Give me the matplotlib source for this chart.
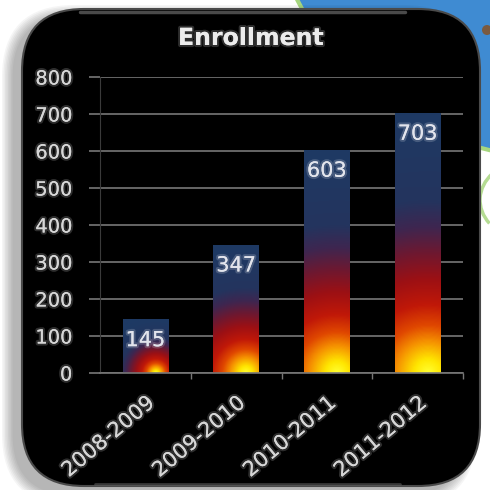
import numpy as np
import matplotlib
matplotlib.use('Agg')
import matplotlib.pyplot as plt
import matplotlib.patheffects as pe
from matplotlib.patches import FancyBboxPatch, Circle, Arc
from matplotlib.colors import LinearSegmentedColormap

years = ['2008-2009', '2009-2010', '2010-2011', '2011-2012']
enrollment = [145, 347, 603, 703]
y_ticks = [0, 100, 200, 300, 400, 500, 600, 700, 800]

W = H = 490
fig = plt.figure(figsize=(4.9, 4.9), dpi=100)
fig.patch.set_facecolor('white')

# backdrop drawn in pixel units (y downwards)
bg = fig.add_axes([0, 0, 1, 1])
bg.set_xlim(0, W)
bg.set_ylim(H, 0)
bg.axis('off')

bg.add_patch(Circle((552, -128), 285, facecolor='#3f8bd2', edgecolor='#a6d67f', lw=3, zorder=0))
bg.add_patch(Arc((530, 200), 100, 80, theta1=150, theta2=215, color='#b5dc93', lw=2.5, zorder=0))
bg.add_patch(Circle((487, 30), 5, facecolor='#7a5a40', edgecolor='none', zorder=0))

# soft drop shadow of the dark card, falling to the lower left
px0, py0, px1, py1 = 22, 9, 480, 486
for k in range(8, 0, -1):
    g = k * 1.5
    bg.add_patch(FancyBboxPatch((px0 - 8 - g, py0 + 8 - g), (px1 - px0) + 2 * g - 8, (py1 - py0) + 2 * g,
                                boxstyle=f'round,pad=0,rounding_size={60 + g}',
                                facecolor='black', edgecolor='none', alpha=0.04, zorder=1))
bg.add_patch(FancyBboxPatch((px0, py0), px1 - px0, py1 - py0,
                            boxstyle='round,pad=0,rounding_size=62',
                            facecolor='black', edgecolor='#4a4a4a', lw=1.5, zorder=2))
bg.plot([80, 405], [12.5, 12.5], color='#6a6a6a', lw=2.5, alpha=0.7, solid_capstyle='round', zorder=3)
bg.plot([95, 400], [484, 484], color='#5a5a5a', lw=2, alpha=0.6, solid_capstyle='round', zorder=3)

glow = [pe.withStroke(linewidth=3, foreground=(1, 1, 1, 0.18))]
bg.text(251, 38, 'Enrollment', ha='center', va='center', fontsize=17, fontweight='bold',
        color='#ececec', path_effects=glow, zorder=5)

# chart area
ax = fig.add_axes([100 / W, 117 / H, 363 / W, 296 / H])
ax.set_facecolor('none')
ax.set_zorder(4)

# bottom-up "flame" fill: yellow hot spot, red body, navy top
fire = LinearSegmentedColormap.from_list('fire', [
    (0.00, '#ffff30'),
    (0.05, '#ffe600'),
    (0.12, '#f59000'),
    (0.18, '#e04800'),
    (0.26, '#c01808'),
    (0.36, '#9c1014'),
    (0.46, '#6e1830'),
    (0.56, '#3e2650'),
    (0.66, '#24345e'),
    (1.00, '#1e3a64'),
])

bar_w = 0.5
px_x = 363 / 4.0
px_y = 296 / 800.0
bars = ax.bar(range(len(years)), enrollment, width=bar_w, color='none', edgecolor='none', zorder=2)
for rect, v in zip(bars, enrollment):
    x0 = rect.get_x()
    w_px = bar_w * px_x
    h_px = v * px_y
    fx, fy = np.meshgrid(np.linspace(0, 1, 80), np.linspace(0, 1, 300))
    t = np.hypot((fx - 0.72) * w_px / h_px, fy)
    im = ax.imshow(t, cmap=fire, vmin=0, vmax=1, origin='lower', aspect='auto',
                   extent=(x0, x0 + bar_w, 0, v), interpolation='bilinear', zorder=2)
    im.set_clip_path(rect)
    ax.annotate(str(v), (rect.get_x() + bar_w / 2, v), xytext=(0, -15), textcoords='offset points',
                ha='center', va='center', fontsize=15, color='#e2e4ec', path_effects=glow, zorder=3)

ax.set_xlim(-0.5, 3.5)
ax.set_ylim(0, 800)
ax.set_yticks(y_ticks)
ax.grid(axis='y', color='#777777', lw=1.2, zorder=0)
ax.set_axisbelow(True)
ax.tick_params(axis='y', length=8, width=1.2, color='#777777', labelcolor='#d6d6d6',
               labelsize=14, pad=12)
for lab in ax.get_yticklabels():
    lab.set_path_effects(glow)

ax.set_xticks(range(len(years)))
ax.set_xticklabels(years, rotation=40, ha='right', rotation_mode='anchor')
ax.set_xticks([0.5, 1.5, 2.5, 3.5], minor=True)
ax.tick_params(axis='x', which='major', length=0, labelcolor='#d6d6d6', labelsize=15, pad=14)
ax.tick_params(axis='x', which='minor', length=4, width=1, color='#777777')
for lab in ax.get_xticklabels():
    lab.set_path_effects(glow)

for s in ('top', 'right'):
    ax.spines[s].set_visible(False)
ax.spines['left'].set_color('#3a3a3a')
ax.spines['bottom'].set_color('#777777')
ax.spines['bottom'].set_linewidth(1.2)

fig.savefig('out.png', dpi=100, facecolor='white')
